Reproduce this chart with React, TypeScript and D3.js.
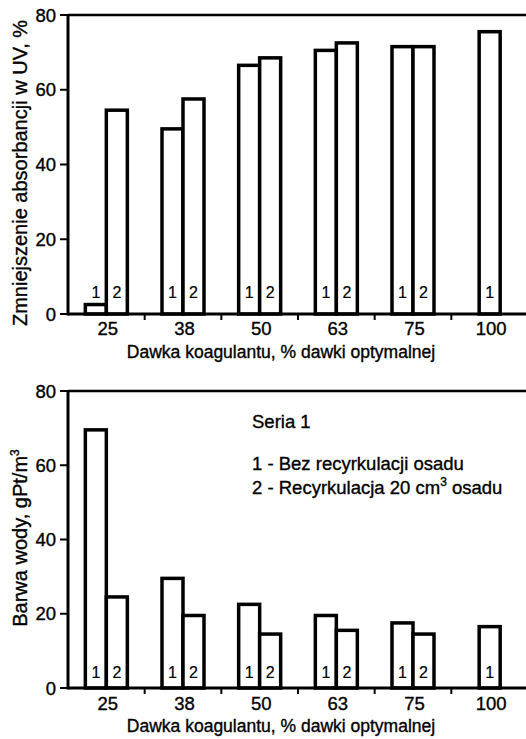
import React from "react";
import * as d3 from "d3";

const categories = ["25", "38", "50", "63", "75", "100"];
const uvSeries1 = [3, 50, 67, 71, 72, 76];
const uvSeries2: (number | null)[] = [55, 58, 69, 73, 72, null];
const colorSeries1 = [70, 30, 23, 20, 18, 17];
const colorSeries2: (number | null)[] = [25, 20, 15, 16, 15, null];
const yTicks = [0, 20, 40, 60, 80];
const legendTitle = "Seria 1";
const legendItems = ["1 - Bez recyrkulacji osadu", "2 - Recyrkulacja 20 cm", " osadu"];

const FONT = "Liberation Sans, Arial, sans-serif";
const W = 526;
const H = 739;
const left = 68;
const right = 528;
const TXT = { fontFamily: FONT, stroke: "#000", strokeWidth: 0.35 } as const;

type PanelProps = {
  top: number;
  bottom: number;
  s1: number[];
  s2: (number | null)[];
  labelOffset: number;
  tickOffset: number;
  yTitle: React.ReactNode;
  yTitleCenter: number;
};

function Panel({ top, bottom, s1, s2, labelOffset, tickOffset, yTitle, yTitleCenter }: PanelProps) {
  const x = d3.scaleBand<string>().domain(categories).range([left, right]).padding(0);
  const y = d3.scaleLinear().domain([0, 80]).range([bottom, top]);
  const bw = 21;
  const boundaries = categories.slice(1).map((c) => x(c)!);
  return (
    <g>
      <line x1={left} x2={W} y1={top} y2={top} stroke="#000" strokeWidth={2.5} />
      <line x1={left} x2={left} y1={top - 1} y2={bottom + 1.5} stroke="#000" strokeWidth={3} />
      {categories.map((c, i) => {
        const cx = x(c)! + x.bandwidth() / 2;
        const v2 = s2[i];
        const v1 = s1[i];
        const x1 = v2 == null ? cx - bw / 2 : cx - bw;
        return (
          <g key={c}>
            <rect x={x1} y={y(v1) + 1.75} width={bw} height={bottom - y(v1) - 1.75} fill="#fff" stroke="#000" strokeWidth={3.5} />
            {v2 != null && (
              <rect x={cx} y={y(v2) + 1.75} width={bw} height={bottom - y(v2) - 1.75} fill="#fff" stroke="#000" strokeWidth={3.5} />
            )}
            <text x={x1 + bw / 2} y={bottom - labelOffset} fontSize={16} textAnchor="middle" {...TXT} strokeWidth={0.2}>1</text>
            {v2 != null && (
              <text x={cx + bw / 2} y={bottom - labelOffset} fontSize={16} textAnchor="middle" {...TXT} strokeWidth={0.2}>2</text>
            )}
            <text x={cx + 1.5} y={bottom + tickOffset} fontSize={18.5} textAnchor="middle" {...TXT}>{c}</text>
          </g>
        );
      })}
      <line x1={left} x2={W} y1={bottom} y2={bottom} stroke="#000" strokeWidth={3} />
      {boundaries.map((b, i) => (
        <line key={i} x1={b} x2={b} y1={bottom} y2={bottom + 6} stroke="#000" strokeWidth={2} />
      ))}
      {yTicks.map((t) => (
        <g key={t}>
          <line x1={left - 8} x2={left} y1={y(t)} y2={y(t)} stroke="#000" strokeWidth={2} />
          <text x={56} y={y(t) + 6.5} fontSize={18.5} textAnchor="end" {...TXT}>{t}</text>
        </g>
      ))}
      <text x={281} y={bottom + 44} fontSize={17.5} textAnchor="middle" {...TXT}>
        Dawka koagulantu, % dawki optymalnej
      </text>
      <text transform={`translate(27,${yTitleCenter}) rotate(-90)`} fontSize={20} textAnchor="middle" {...TXT}>
        {yTitle}
      </text>
    </g>
  );
}

export default function App() {
  return (
    <svg width={W} height={H} style={{ position: "absolute", left: 0, top: 0, background: "#fff" }}>
      <rect width={W} height={H} fill="#fff" />
      <Panel
        top={15}
        bottom={314}
        s1={uvSeries1}
        s2={uvSeries2}
        labelOffset={16}
        tickOffset={21}
        yTitle="Zmniejszenie absorbancji w UV, %"
        yTitleCenter={173}
      />
      <Panel
        top={391}
        bottom={688}
        s1={colorSeries1}
        s2={colorSeries2}
        labelOffset={10}
        tickOffset={22}
        yTitle={
          <>
            Barwa wody, gPt/m
            <tspan fontSize={12} dy={-8}>3</tspan>
          </>
        }
        yTitleCenter={538}
      />
      <g fontSize={18.5} {...TXT}>
        <text x={252} y={428}>{legendTitle}</text>
        <text x={252} y={470}>{legendItems[0]}</text>
        <text x={252} y={494}>
          {legendItems[1]}
          <tspan fontSize={12} dy={-8}>3</tspan>
          <tspan dy={8}>{legendItems[2]}</tspan>
        </text>
      </g>
    </svg>
  );
}
